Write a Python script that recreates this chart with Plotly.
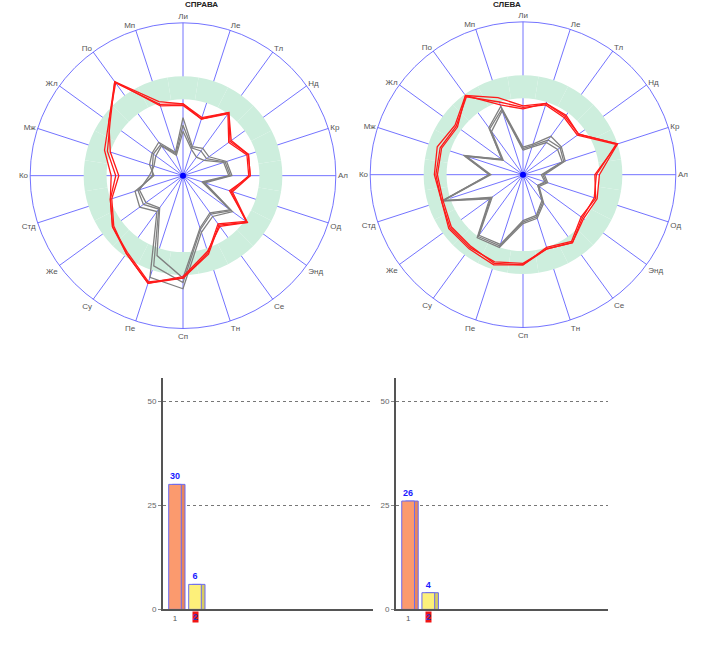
import plotly.graph_objects as go

directions = ["Ли", "Ле", "Тл", "Нд", "Кр", "Ал", "Од", "Энд", "Се", "Тн",
              "Сп", "Пе", "Су", "Же", "Стд", "Ко", "Мж", "Жл", "По", "Мп"]

ring_inner = 0.50
ring_width = 0.15

right_red = [
    [.47, .39, .51, .39, .45, .44, .32, .52, .40, .54, .67, .74, .63, .57, .50, .47, .54, .60, .76, .51],
    [.46, .39, .50, .37, .44, .43, .33, .51, .39, .53, .67, .73, .62, .57, .50, .44, .52, .59, .76, .48],
    [.47, .40, .51, .38, .45, .44, .34, .52, .41, .52, .66, .74, .63, .56, .49, .42, .50, .60, .75, .49],
]
right_gray = [
    [.38, .20, .22, .21, .30, .32, .15, .40, .33, .39, .74, .70, .29, .35, .33, .19, .23, .25, .27, .16],
    [.29, .18, .15, .17, .28, .30, .13, .38, .30, .36, .67, .55, .26, .30, .30, .22, .20, .22, .24, .14],
    [.33, .19, .20, .19, .29, .31, .14, .39, .31, .37, .70, .62, .27, .32, .31, .20, .21, .24, .25, .15],
]
left_red = [
    [.45, .49, .48, .45, .65, .50, .51, .49, .55, .51, .59, .62, .60, .60, .56, .58, .59, .55, .64, .53],
    [.43, .49, .47, .45, .65, .47, .50, .47, .54, .50, .59, .61, .58, .58, .55, .56, .56, .53, .64, .48],
    [.44, .48, .46, .44, .64, .48, .49, .48, .55, .51, .58, .60, .59, .59, .56, .57, .57, .54, .63, .50],
]
left_gray = [
    [.18, .21, .31, .31, .29, .14, .17, .13, .23, .30, .32, .50, .51, .27, .56, .22, .41, .17, .38, .47],
    [.16, .19, .26, .28, .27, .12, .15, .12, .21, .28, .30, .48, .49, .25, .55, .21, .39, .16, .35, .44],
    [.17, .20, .28, .30, .28, .13, .16, .12, .22, .29, .31, .49, .50, .26, .55, .22, .40, .17, .37, .45],
]

titles = ["СПРАВА", "СЛЕВА"]
bar_categories = [1, 2]
right_bars = [30, 6]
left_bars = [26, 4]

front_colors = ["#fb9a6e", "#fdf07a"]
side_colors = ["#e7865d", "#d8cc60"]

fig = go.Figure()


def add_polar(pname, reds, grays):
    fig.add_trace(go.Barpolar(
        theta=directions, r=[ring_width] * len(directions), base=ring_inner,
        marker=dict(color="#cdeedd", line=dict(width=0)),
        subplot=pname, showlegend=False, hoverinfo="skip"))
    for series in grays:
        fig.add_trace(go.Scatterpolar(
            theta=directions + directions[:1], r=series + series[:1],
            mode="lines", line=dict(color="#808080", width=1.3),
            subplot=pname, showlegend=False))
    for series in reds:
        fig.add_trace(go.Scatterpolar(
            theta=directions + directions[:1], r=series + series[:1],
            mode="lines", line=dict(color="#ff1a1a", width=1.3),
            subplot=pname, showlegend=False))
    fig.add_trace(go.Scatterpolar(
        theta=[directions[0]], r=[0], mode="markers",
        marker=dict(color="#0000ff", size=6),
        subplot=pname, showlegend=False))


add_polar("polar", right_red, right_gray)
add_polar("polar2", left_red, left_gray)


def add_bars(xa, ya, values):
    fig.add_trace(go.Bar(
        x=bar_categories, y=values, width=0.63, offset=-0.13,
        marker=dict(color=side_colors, line=dict(color="#6a6af0", width=1)),
        xaxis=xa, yaxis=ya, showlegend=False, hoverinfo="skip"))
    fig.add_trace(go.Bar(
        x=bar_categories, y=values, width=0.63, offset=-0.315,
        marker=dict(color=front_colors, line=dict(color="#6a6af0", width=1)),
        text=[str(v) for v in values], textposition="outside",
        textfont=dict(color="#1a1aff", size=9, family="Liberation Sans", weight="bold"),
        cliponaxis=False,
        xaxis=xa, yaxis=ya, showlegend=False))


add_bars("x", "y", right_bars)
add_bars("x2", "y2", left_bars)

blue = "rgba(90,90,255,0.85)"
polar_common = dict(
    bgcolor="rgba(0,0,0,0)",
    bargap=0,
    radialaxis=dict(range=[0, 1], visible=False),
    angularaxis=dict(
        type="category", categoryarray=directions, direction="clockwise",
        rotation=90, gridcolor=blue, gridwidth=1, linecolor=blue, linewidth=1,
        showline=True, ticks="", layer="above traces",
        tickfont=dict(size=8, color="#555555", family="Liberation Sans")),
)

axis_y = dict(range=[0, 55.5], tickvals=[0, 25, 50], showgrid=True,
              gridcolor="#777777", griddash="dot", gridwidth=1,
              showline=True, linecolor="#555555", linewidth=2,
              ticks="outside", ticklen=3, tickcolor="#888888",
              zeroline=False, fixedrange=True,
              tickfont=dict(size=8, color="#666666", family="Liberation Sans"))
axis_x = dict(range=[0.4, 10.9], tickvals=[1], ticktext=["1"], showgrid=False,
              showline=True, linecolor="#555555", linewidth=2, zeroline=False,
              ticks="", fixedrange=True,
              tickfont=dict(size=8, color="#555555", family="Liberation Sans"))

bar_dom_y = [1 - 614 / 664, 1 - 381 / 664]

fig.update_layout(
    width=705, height=664,
    margin=dict(l=0, r=0, t=0, b=0),
    paper_bgcolor="white", plot_bgcolor="white",
    barmode="overlay",
    polar=dict(domain=dict(x=[29 / 705, 337 / 705], y=[1 - 331 / 664, 1 - 23 / 664]), **polar_common),
    polar2=dict(domain=dict(x=[369 / 705, 677 / 705], y=[1 - 330 / 664, 1 - 22 / 664]), **polar_common),
    xaxis=dict(domain=[163 / 705, 373 / 705], anchor="y", **axis_x),
    yaxis=dict(domain=bar_dom_y, anchor="x", **axis_y),
    xaxis2=dict(domain=[396 / 705, 608 / 705], anchor="y2", **axis_x),
    yaxis2=dict(domain=bar_dom_y, anchor="x2", **axis_y),
)

for i, t in enumerate(titles):
    fig.add_annotation(text="<b>" + t + "</b>", x=(183 if i == 0 else 523) / 705, y=1 - 5 / 664,
                       xref="paper", yref="paper", showarrow=False, yanchor="middle",
                       font=dict(size=8, color="#222222", family="Liberation Sans"))

for xa, ya in [("x", "y"), ("x2", "y2")]:
    fig.add_annotation(text="<b>2</b>", x=bar_categories[1], y=0, xref=xa, yref=ya,
                       yanchor="top", yshift=-2, showarrow=False, bgcolor="#f01414",
                       borderpad=0, font=dict(size=9, color="#3030c0", family="Liberation Sans"))

fig.write_html("out.html", config={"displayModeBar": False},
               post_script="document.body.style.margin='0';document.body.style.overflow='hidden';")
